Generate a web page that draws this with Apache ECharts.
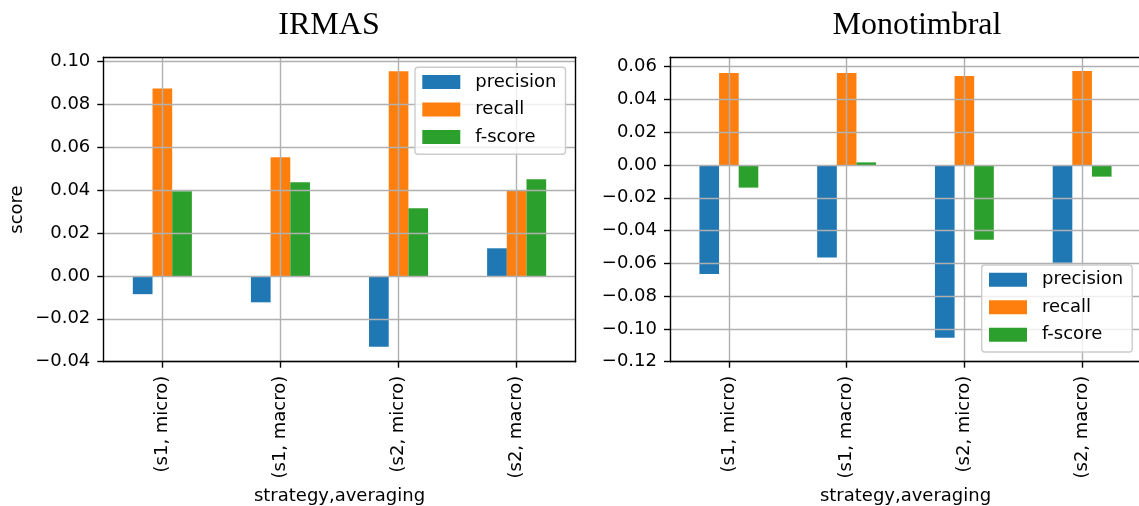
<!DOCTYPE html>
<html>
<head>
<meta charset="utf-8">
<script src="https://cdn.jsdelivr.net/npm/echarts@6/dist/echarts.min.js"></script>
<style>
  html, body { margin: 0; padding: 0; background: #fff; }
  #chart { width: 1139px; height: 506px; }
</style>
</head>
<body>
<div id="chart"></div>
<script>
// ---- data ----
const categories = ['(s1, micro)', '(s1, macro)', '(s2, micro)', '(s2, macro)'];
const seriesNames = ['precision', 'recall', 'f-score'];

const irmasPrecision = [-0.0085, -0.0123, -0.0330, 0.0129];
const irmasRecall    = [0.0875, 0.0554, 0.0955, 0.0397];
const irmasFscore    = [0.0395, 0.0437, 0.0316, 0.0451];

const monoPrecision  = [-0.0665, -0.0565, -0.1054, -0.0596];
const monoRecall     = [0.0561, 0.0561, 0.0543, 0.0574];
const monoFscore     = [-0.0138, 0.0016, -0.0456, -0.0071];

const irmasTicks = [-0.04, -0.02, 0.00, 0.02, 0.04, 0.06, 0.08, 0.10];
const monoTicks  = [-0.12, -0.10, -0.08, -0.06, -0.04, -0.02, 0.00, 0.02, 0.04, 0.06];
const irmasRange = [-0.04, 0.102];
const monoRange  = [-0.12, 0.0657];

const titles = ['IRMAS', 'Monotimbral'];
const xName = 'strategy,averaging';
const yName = 'score';

// ---- styling ----
const FONT = 'DejaVu Sans';
const FS = 18;
const colors = ['#1f77b4', '#ff7f0e', '#2ca02c'];
const GRID_COLOR = '#b0b0b0';

const grids = [
  { left: 103.3, top: 57.3, width: 472.4, height: 304.4 },
  { left: 670, top: 57.3, width: 471, height: 304.4 }
];

function fmt(v) {
  return v.toFixed(2).replace('-', '\u2212');
}

function mainX(gi) {
  return {
    type: 'category', gridIndex: gi, data: categories, z: 5,
    position: 'bottom',
    axisLine: { show: true, onZero: false, lineStyle: { color: '#000', width: 1.4 } },
    axisTick: { show: true, alignWithLabel: true, length: 6, inside: false, interval: 0,
                lineStyle: { color: '#000', width: 1.4 } },
    axisLabel: { rotate: 90, interval: 0, margin: 14, color: '#000', fontFamily: FONT, fontSize: FS },
    splitLine: { show: true, alignWithLabel: true, interval: 0, lineStyle: { color: GRID_COLOR, width: 1.4 } },
    name: xName, nameLocation: 'middle', nameGap: 126,
    nameTextStyle: { color: '#000', fontFamily: FONT, fontSize: FS }
  };
}
function spineX(gi) {
  return {
    type: 'category', gridIndex: gi, data: categories, z: 6, position: 'top',
    axisLine: { show: true, onZero: false, lineStyle: { color: '#000', width: 1.4 } },
    axisTick: { show: false }, axisLabel: { show: false }, splitLine: { show: false }
  };
}
function mainY(gi, range, ticks, name) {
  const ax = {
    type: 'value', gridIndex: gi, min: range[0], max: range[1], interval: 0.02, z: 5,
    position: 'left',
    axisLine: { show: true, onZero: false, lineStyle: { color: '#000', width: 1.4 } },
    axisTick: { show: true, length: 6, customValues: ticks, lineStyle: { color: '#000', width: 1.4 } },
    axisLabel: { customValues: ticks, margin: 13, color: '#000', fontFamily: FONT, fontSize: FS,
                 formatter: fmt },
    splitLine: { show: true, lineStyle: { color: GRID_COLOR, width: 1.4 } }
  };
  if (name) {
    ax.name = name; ax.nameLocation = 'middle'; ax.nameGap = 77;
    ax.nameTextStyle = { color: '#000', fontFamily: FONT, fontSize: FS };
  }
  return ax;
}
function spineY(gi, range) {
  return {
    type: 'value', gridIndex: gi, min: range[0], max: range[1], z: 6, position: 'right',
    axisLine: { show: true, onZero: false, lineStyle: { color: '#000', width: 1.4 } },
    axisTick: { show: false }, axisLabel: { show: false }, splitLine: { show: false }
  };
}

function bar(name, data, xi, yi, color) {
  return {
    type: 'bar', name: name, data: data, xAxisIndex: xi, yAxisIndex: yi,
    itemStyle: { color: color }, barGap: '0%', barCategoryGap: '50%', z: 2,
    emphasis: { disabled: true }
  };
}

function legend(left, top) {
  return {
    data: seriesNames, orient: 'vertical', left: left, top: top, z: 10,
    itemWidth: 38, itemHeight: 14, itemGap: 9.5,
    icon: 'rect',
    padding: [5.7, 9, 8.3, 7.3],
    backgroundColor: 'rgba(255,255,255,0.8)',
    borderColor: '#cccccc', borderWidth: 1.4, borderRadius: 3,
    textStyle: { color: '#000', fontFamily: FONT, fontSize: FS, lineHeight: 18, padding: [0, 0, 0, 10] },
    selectedMode: false
  };
}

const option = {
  animation: false,
  backgroundColor: '#fff',
  grid: grids.map(g => Object.assign({ show: false, containLabel: false, outerBoundsMode: 'none' }, g)),
  xAxis: [mainX(0), mainX(1), spineX(0), spineX(1)],
  yAxis: [mainY(0, irmasRange, irmasTicks, yName), mainY(1, monoRange, monoTicks, null),
          spineY(0, irmasRange), spineY(1, monoRange)],
  legend: [legend(415, 67.3), legend(981.7, 265)],
  series: [
    bar(seriesNames[0], irmasPrecision, 0, 0, colors[0]),
    bar(seriesNames[1], irmasRecall, 0, 0, colors[1]),
    bar(seriesNames[2], irmasFscore, 0, 0, colors[2]),
    bar(seriesNames[0], monoPrecision, 1, 1, colors[0]),
    bar(seriesNames[1], monoRecall, 1, 1, colors[1]),
    bar(seriesNames[2], monoFscore, 1, 1, colors[2])
  ],
  graphic: [
    { type: 'text', x: 329, y: 26, z: 10,
      style: { text: titles[0], align: 'center', verticalAlign: 'middle',
               font: '32px "Liberation Serif"', fill: '#000' } },
    { type: 'text', x: 917, y: 26, z: 10,
      style: { text: titles[1], align: 'center', verticalAlign: 'middle',
               font: '32px "Liberation Serif"', fill: '#000' } }
  ]
};

const chart = echarts.init(document.getElementById('chart'), null, { renderer: 'canvas' });
chart.setOption(option);
</script>
</body>
</html>
